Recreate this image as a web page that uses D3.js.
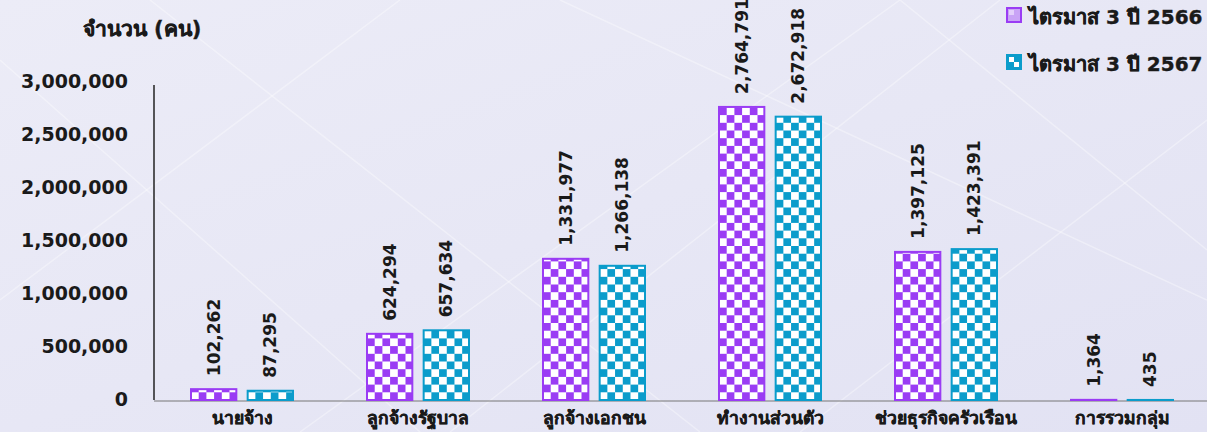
<!DOCTYPE html>
<html><head><meta charset="utf-8">
<script src="https://cdn.jsdelivr.net/npm/d3@7"></script>
<style>
html,body{margin:0;padding:0;background:#e7e7f5;}
svg{display:block;font-family:"DejaVu Sans","Noto Sans",sans-serif;}
</style></head>
<body>
<svg id="chart" width="1207" height="432"></svg>
<script>
const categories = ["นายจ้าง","ลูกจ้างรัฐบาล","ลูกจ้างเอกชน","ทำงานส่วนตัว","ช่วยธุรกิจครัวเรือน","การรวมกลุ่ม"];
const seriesNames = ["ไตรมาส 3 ปี 2566","ไตรมาส 3 ปี 2567"];
const values2566 = [102262, 624294, 1331977, 2764791, 1397125, 1364];
const values2567 = [87295, 657634, 1266138, 2672918, 1423391, 435];
const yTicks = [0, 500000, 1000000, 1500000, 2000000, 2500000, 3000000];
const yTitle = "จำนวน (คน)";
const colors = ["#9a3cf4", "#0b9ccb"];

const svg = d3.select("#chart");
const W = 1207, H = 432;

// background
const defs = svg.append("defs");
const bg = defs.append("linearGradient").attr("id","bgGrad").attr("x1","0").attr("y1","0").attr("x2","1").attr("y2","1");
bg.append("stop").attr("offset","0").attr("stop-color","#ececf7");
bg.append("stop").attr("offset","1").attr("stop-color","#e2e2f3");
svg.append("rect").attr("width",W).attr("height",H).attr("fill","url(#bgGrad)");
const bgLines = [[0,60,420,432],[150,0,700,432],[560,0,1207,300],[300,432,900,0],[800,432,1207,120],[0,300,400,0],[900,0,1207,250],[450,432,1000,0]];
svg.append("g").selectAll("line").data(bgLines).join("line")
  .attr("x1",d=>d[0]).attr("y1",d=>d[1]).attr("x2",d=>d[2]).attr("y2",d=>d[3])
  .attr("stroke","#ffffff").attr("stroke-opacity",0.35).attr("stroke-width",1.5);

// patterns
colors.forEach((c,i)=>{
  const p = defs.append("pattern").attr("id","chk"+i).attr("patternUnits","userSpaceOnUse")
    .attr("width",15.4).attr("height",15.4);
  p.append("rect").attr("width",15.4).attr("height",15.4).attr("fill","#ffffff");
  p.append("rect").attr("x",0).attr("y",0).attr("width",7.7).attr("height",7.7).attr("fill",c);
  p.append("rect").attr("x",7.7).attr("y",7.7).attr("width",7.7).attr("height",7.7).attr("fill",c);
});

const x0 = d3.scaleBand().domain(categories).range([154, 1210]).paddingInner(0).paddingOuter(0);
const x1 = d3.scaleBand().domain([0,1]).range([x0.bandwidth()/2-51, x0.bandwidth()/2+51]).paddingInner(0.2);
const y = d3.scaleLinear().domain([0,3000000]).range([400,82]);
const fmt = d3.format(",");

// y axis
const yAxis = d3.axisLeft(y).tickValues(yTicks).tickFormat(fmt).tickSize(0).tickPadding(26);
const ya = svg.append("g").attr("transform","translate(154,0)").call(yAxis);
ya.select(".domain").remove();
ya.selectAll("text").attr("font-size",19).attr("font-weight","bold").attr("fill","#1a1a1a").attr("font-family","DejaVu Sans").attr("dy","0.3em");
svg.append("line").attr("x1",154).attr("x2",154).attr("y1",85).attr("y2",400).attr("stroke","#222").attr("stroke-width",1.5);

// baseline + x axis labels
const xa = svg.append("g").attr("transform","translate(0,401)").call(d3.axisBottom(x0).tickSize(0).tickPadding(11));
xa.select(".domain").remove();
xa.selectAll("text").attr("font-size",17.5).attr("font-weight","bold").attr("fill","#1a1a1a")
  .attr("stroke","#1a1a1a").attr("stroke-width",0.4).attr("font-family","Noto Sans, sans-serif");
svg.append("line").attr("x1",154).attr("x2",1207).attr("y1",401).attr("y2",401).attr("stroke","#777").attr("stroke-width",1);

// bars
const series = [values2566, values2567];
series.forEach((vals,si)=>{
  const g = svg.append("g");
  const bars = g.selectAll("g.bar").data(vals.map((v,i)=>({v,cat:categories[i]}))).join("g")
    .attr("class","bar")
    .attr("transform",d=>`translate(${x0(d.cat)+x1(si)},${y(0)})`);
  bars.append("rect")
    .attr("x",0).attr("y",d=>y(d.v)-y(0)).attr("width",x1.bandwidth()).attr("height",d=>Math.max(y(0)-y(d.v),0.01))
    .attr("fill",`url(#chk${si})`).attr("stroke",colors[si]).attr("stroke-width",2);
  bars.append("text")
    .attr("transform",d=>`translate(${x1.bandwidth()/2},${y(d.v)-y(0)-13}) rotate(-90)`)
    .attr("dy","0.36em").attr("font-size",17).attr("font-weight","bold").attr("fill","#1a1a1a")
    .attr("font-family","DejaVu Sans")
    .text(d=>fmt(d.v));
});

// legend
const lg = svg.append("g");
seriesNames.forEach((name,i)=>{
  const gy = 8 + i*47;
  const s = lg.append("g").attr("transform",`translate(1007,${gy})`);
  s.append("rect").attr("width",14).attr("height",14).attr("fill",i===0?"#c9a3f6":colors[i]).attr("stroke",colors[i]).attr("stroke-width",2);
  s.append("rect").attr("x",2).attr("y",2).attr("width",5).attr("height",5).attr("fill",i===0?"#e3cffb":"#ffffff");
  if(i===1) s.append("rect").attr("x",7).attr("y",7).attr("width",5).attr("height",5).attr("fill","#ffffff");
  lg.append("text").attr("x",1029).attr("y",gy+9).attr("dy","0.36em").attr("font-size",20).attr("font-weight","bold")
    .attr("fill","#1a1a1a").attr("stroke","#1a1a1a").attr("stroke-width",0.4).text(name);
});

// y title
svg.append("text").attr("x",142).attr("y",28).attr("dy","0.36em").attr("text-anchor","middle")
  .attr("font-size",21).attr("font-weight","bold").attr("fill","#1a1a1a").attr("stroke","#1a1a1a").attr("stroke-width",0.4).text(yTitle);
</script>
</body></html>
